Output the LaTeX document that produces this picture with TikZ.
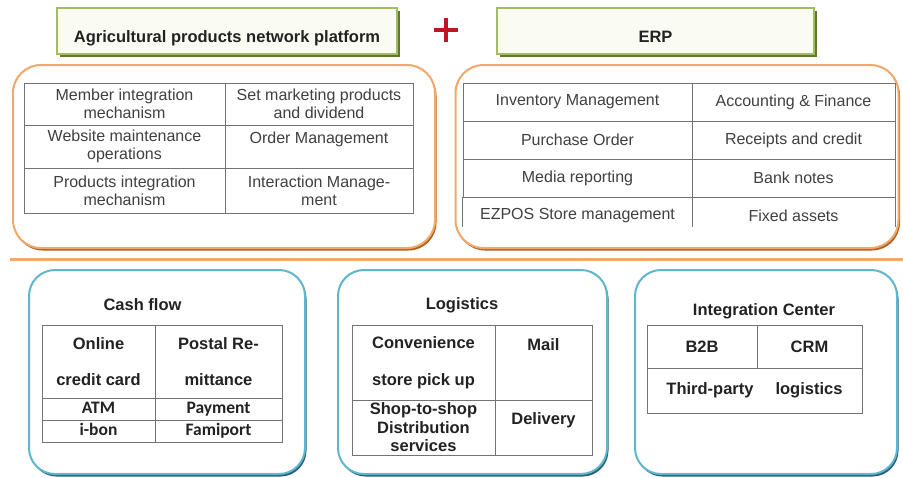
\documentclass[tikz,border=0pt]{standalone}
\usepackage{fontspec}
\setmainfont{Liberation Sans}
\newfontfamily\calfont{Carlito}
\usetikzlibrary{positioning, shadows}

\definecolor{orangeline}{RGB}{241,168,104}
\definecolor{orangeshade}{RGB}{176,96,34}
\definecolor{blueline}{RGB}{96,182,204}
\definecolor{blueshade}{RGB}{38,98,118}
\definecolor{greenline}{RGB}{160,190,96}
\definecolor{greenshade}{RGB}{96,118,50}
\definecolor{greenfill}{RGB}{250,252,244}
\definecolor{plusred}{RGB}{192,22,36}
\definecolor{gridgray}{RGB}{115,115,115}
\definecolor{textgray}{RGB}{64,64,64}
\definecolor{textdark}{RGB}{34,34,34}

\newcommand\tabfnt{\fontsize{16}{18}\selectfont}
\newcommand\headfnt{\fontsize{16.5}{19}\selectfont\bfseries}
\newcommand\cellfnt{\fontsize{16.5}{18.5}\selectfont\bfseries}
\newcommand\payfnt{\calfont\fontsize{17.5}{19}\selectfont\bfseries}

\begin{document}
\begin{tikzpicture}[x=1pt,y=-1pt,on grid,
    titlebox/.style={draw=greenline,line width=1.5pt,fill=greenfill,
        minimum height=46pt,font=\headfnt,text=textdark,
        text height=22pt,text depth=0pt,
        general shadow={fill=greenshade,shadow xshift=2.5pt,shadow yshift=-2.5pt}},
    orangebox/.style={draw=orangeline,line width=2pt,fill=white,
        rounded corners=28pt,minimum height=183pt,
        general shadow={fill=orangeshade,shadow xshift=1.5pt,shadow yshift=-2.5pt}},
    bluebox/.style={draw=blueline,line width=2pt,fill=white,
        rounded corners=26pt,minimum height=204pt,
        general shadow={fill=blueshade,shadow xshift=1.5pt,shadow yshift=-2.5pt}},
    cellsize/.style 2 args={minimum width=#1,minimum height=#2},
    cell/.style={draw=gridgray,line width=0.8pt,align=center,inner sep=1pt,
        font=\tabfnt,text=textgray},
    opencell/.style={cell,draw=none},
    bcell/.style={cell,font=\cellfnt,text=textdark},
    pcell/.style={bcell,font=\payfnt,text height=12pt,text depth=3.5pt},
    boxtitle/.style={font=\cellfnt,text=textdark},
    gridline/.style={draw=gridgray,line width=0.8pt},
    sepline/.style={draw=orangeline,line width=3pt},
    plussign/.style={draw=plusred,line width=3.5pt}
]
\fill[white] (0,0) rectangle (903,477);
\useasboundingbox (0,0) rectangle (903,477);

\node[titlebox,minimum width=340pt] (plat) at (227,31) {Agricultural products network platform};
\node[titlebox,minimum width=317pt] (erp) at (655.5,31) {ERP};
\coordinate (plus) at (446,30);
\draw[plussign] ([xshift=-12pt]plus) -- ([xshift=12pt]plus);
\draw[plussign] ([yshift=-12pt]plus) -- ([yshift=12pt]plus);

\node[orangebox,minimum width=422pt] (platframe) at (224,156.5) {};
\node[orangebox,minimum width=443pt] (erpframe) at (677,156.5) {};

\node[cell,cellsize={201pt}{42pt}] (p11) at (124.5,104) {Member integration\\mechanism};
\node[cell,cellsize={188pt}{42pt}] (p12) [right=194.5pt of p11] {Set marketing products\\and dividend};
\node[cell,cellsize={201pt}{43pt}] (p21) [below=42.5pt of p11] {Website maintenance\\operations};
\node[cell,cellsize={188pt}{43pt}] (p22) [right=194.5pt of p21] {Order Management\\\mbox{}};
\node[cell,cellsize={201pt}{45pt}] (p31) [below=44pt of p21] {Products integration\\mechanism};
\node[cell,cellsize={188pt}{45pt}] (p32) [right=194.5pt of p31] {Interaction Manage-\\ment};

\node[cell,cellsize={229pt}{38pt}] (e11) at (577.5,102) {Inventory Management};
\node[cell,cellsize={203pt}{38pt}] (e12) [right=216pt of e11] {Accounting \& Finance};
\node[cell,cellsize={229pt}{38pt}] (e21) [below=38pt of e11] {Purchase Order};
\node[cell,cellsize={203pt}{38pt}] (e22) [right=216pt of e21] {Receipts and credit};
\node[cell,cellsize={229pt}{38pt}] (e31) [below=38pt of e21] {Media reporting};
\node[cell,cellsize={203pt}{38pt}] (e32) [right=216pt of e31] {Bank notes};
\node[opencell,cellsize={229pt}{38pt}] (e41) [below=38pt of e31] {EZPOS Store management};
\node[opencell,cellsize={203pt}{38pt}] (e42) [right=216pt of e41] {Fixed assets};
\draw[gridline,shorten >=8pt] (e41.north west) -- (e41.south west);
\draw[gridline,shorten >=8pt] (e41.north east) -- (e41.south east);
\draw[gridline,shorten >=8pt] (e42.north east) -- (e42.south east);

\coordinate (sepwest) at (10,259);
\coordinate (sepeast) at (903,259);
\draw[sepline] (sepwest) -- (sepeast);

\node[bluebox,minimum width=276pt] (cashframe) at (167,372) {};
\node[bluebox,minimum width=269pt] (logframe) at (472.5,372) {};
\node[bluebox,minimum width=262pt] (intframe) at (766,372) {};

\node[boxtitle] (cashtitle) at (142.5,305) {Cash flow};
\node[bcell,cellsize={113pt}{73pt}] (c11) at (98.5,361.5) {Online\\[18pt]credit card};
\node[bcell,cellsize={127pt}{73pt}] (c12) [right=120pt of c11] {Postal Re-\\[18pt]mittance};
\node[pcell,cellsize={113pt}{22pt}] (c21) [below=47.5pt of c11] {ATM};
\node[pcell,cellsize={127pt}{22pt}] (c22) [right=120pt of c21] {Payment};
\node[pcell,cellsize={113pt}{22pt}] (c31) [below=22pt of c21] {i-bon};
\node[pcell,cellsize={127pt}{22pt}] (c32) [right=120pt of c31] {Famiport};

\node[boxtitle] (logtitle) at (462,305) {Logistics};
\node[bcell,cellsize={143pt}{75pt}] (l11) at (423.5,362.5) {Convenience\\[18pt]store pick up};
\node[bcell,cellsize={97pt}{75pt}] (l12) [right=120pt of l11] {Mail\\[18pt]\mbox{}};
\node[bcell,cellsize={143pt}{55pt}] (l21) [below=65pt of l11] {Shop-to-shop\\Distribution\\services};
\node[bcell,cellsize={97pt}{55pt}] (l22) [right=120pt of l21] {Delivery\\\mbox{}};

\node[boxtitle] (inttitle) at (764,311) {Integration Center};
\node[bcell,cellsize={110pt}{43pt}] (i11) at (702,346.5) {B2B};
\node[bcell,cellsize={105pt}{43pt}] (i12) [right=107.5pt of i11] {CRM};
\node[bcell,cellsize={215pt}{45pt}] (i21) at (754.5,390.5) {Third-party\hspace{22pt}logistics};
\end{tikzpicture}
\end{document}
